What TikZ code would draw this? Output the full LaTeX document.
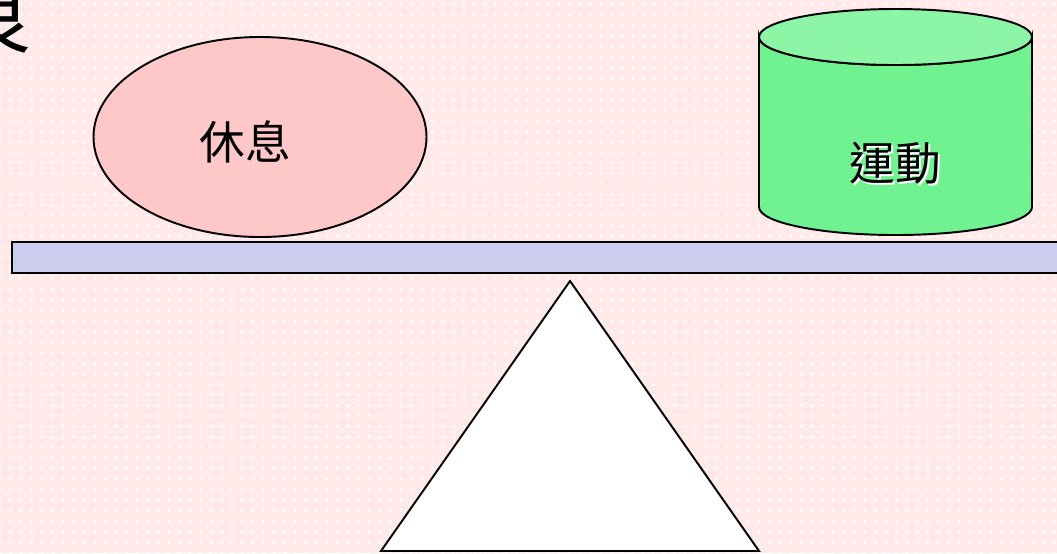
\documentclass[tikz,border=0pt]{standalone}
\usepackage{fontspec}
\usepackage{tikz}
\usetikzlibrary{shapes.geometric, patterns, positioning}
\newfontfamily\cjk{Noto Sans CJK TC}
\definecolor{backpink}{HTML}{FFE9E9}
\definecolor{restpink}{HTML}{FFC8C8}
\definecolor{bodygreen}{HTML}{6FF28F}
\definecolor{topgreen}{HTML}{8CF5A6}
\definecolor{beamblue}{HTML}{CCCCEE}
\tikzstyle{outline} = [draw=black, line width=0.55pt]
\tikzstyle{word}    = [font=\cjk\fontsize{13}{15}\selectfont, inner sep=0pt]

\begin{document}
\begin{tikzpicture}

  %% Frame and background
  \useasboundingbox (0,0) rectangle (10.57,5.53);
  \clip (0,0) rectangle (10.57,5.53);
  \fill[backpink] (0,0) rectangle (10.57,5.53);
  \fill[pattern=dots, pattern color=white] (0,0) rectangle (10.57,5.53);

  %% Title (cut off at the corner)
  \node[font=\cjk\fontsize{23}{26}\selectfont, inner sep=0pt] (title) at (-0.08,5.36) {良};

  %% Rest
  \draw[outline, fill=restpink] (2.60,4.16) ellipse [x radius=1.665, y radius=1.0];
  \node[word] (rest) at (2.45,4.11) {休息};

  %% Exercise
  \draw[outline, fill=bodygreen] (7.59,5.16) -- (7.59,3.46)
        arc[start angle=180, end angle=360, x radius=1.365, y radius=0.28]
        -- (10.32,5.16)
        arc[start angle=0, end angle=-180, x radius=1.365, y radius=0.28] -- cycle;
  \draw[outline, fill=topgreen] (8.955,5.16) ellipse [x radius=1.365, y radius=0.28];
  \node[word, white] at (8.97,3.88) {運動};
  \node[word] (move) at (8.95,3.90) {運動};

  %% Beam and pivot
  \draw[outline, line width=0.7pt, fill=beamblue] (0.12,3.11) rectangle (10.75,2.80);
  \draw[outline, fill=white] (5.70,2.72) -- (3.81,0.02) -- (7.59,0.02) -- cycle;

\end{tikzpicture}
\end{document}
